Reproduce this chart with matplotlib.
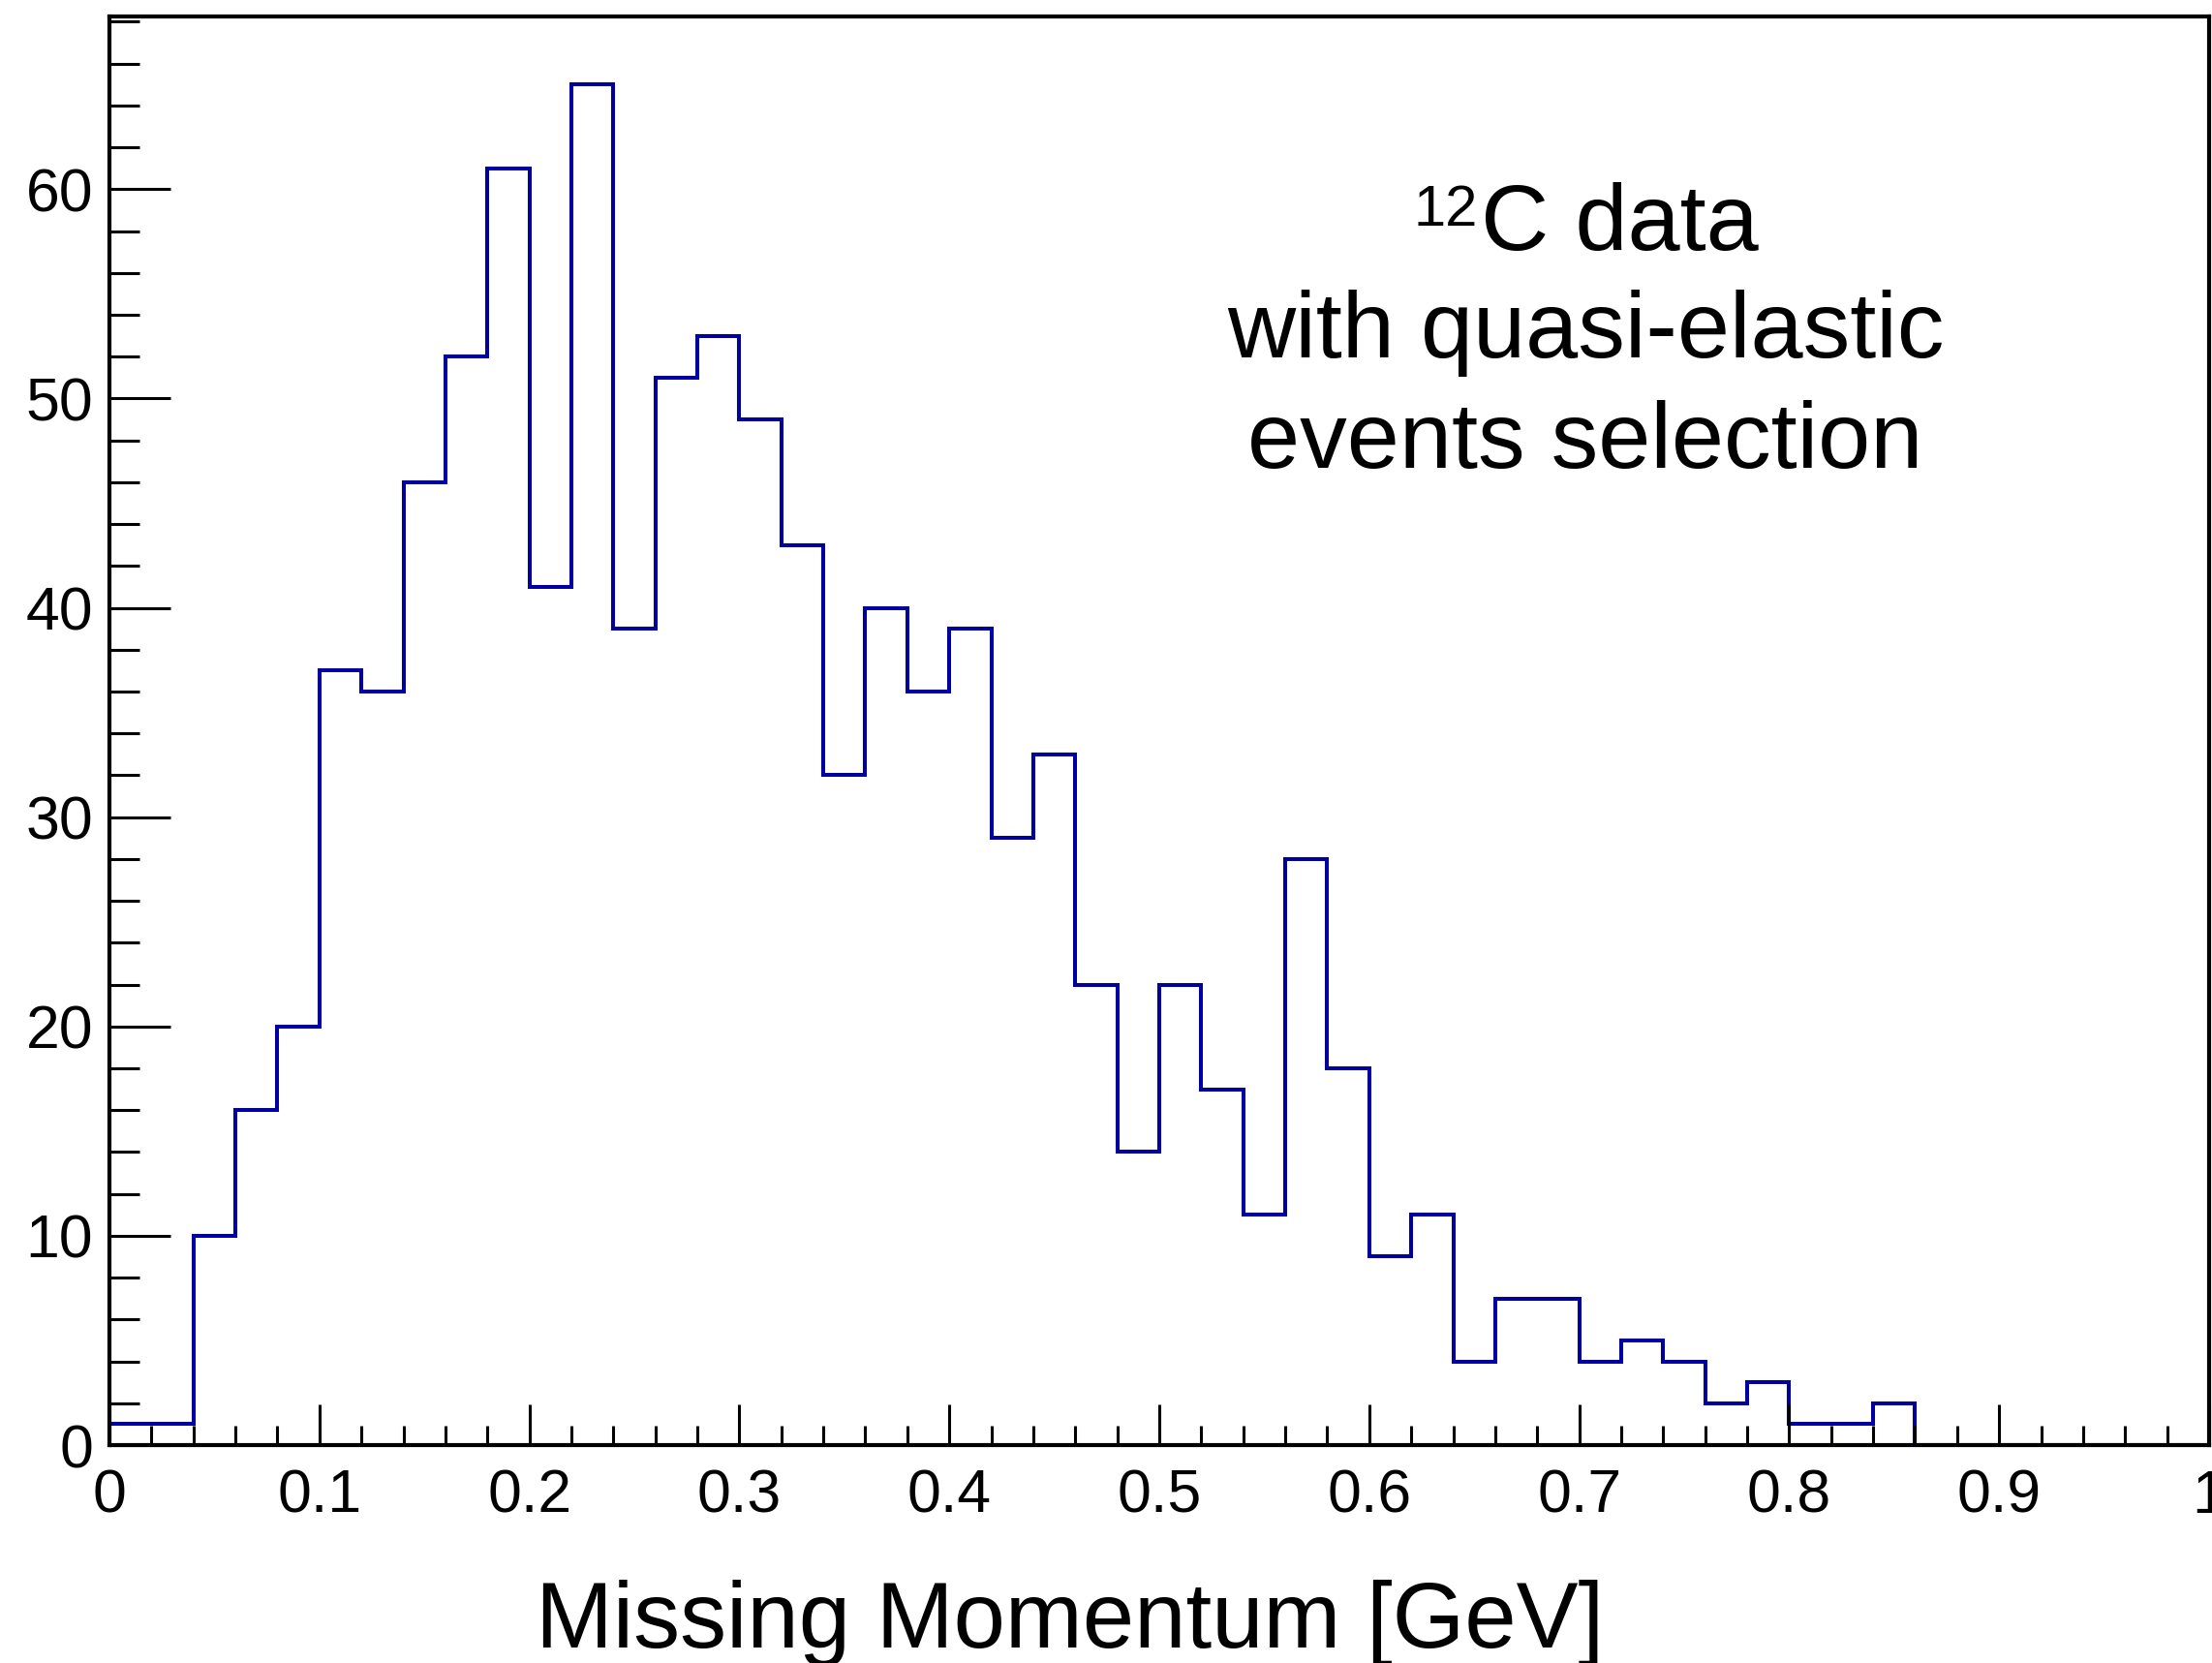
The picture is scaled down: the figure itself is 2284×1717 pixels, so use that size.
import numpy as np
import matplotlib
matplotlib.use("Agg")
import matplotlib.pyplot as plt

plt.rcParams['font.family'] = ['Liberation Sans', 'DejaVu Sans']

# histogram data: 50 bins of 0.02 GeV from 0 to 1
bin_lo = 0.0
bin_hi = 1.0
n_bins = 50
counts = [1, 1, 10, 16, 20, 37, 36, 46, 52, 61,
          41, 65, 39, 51, 53, 49, 43, 32, 40, 36,
          39, 29, 33, 22, 14, 22, 17, 11, 28, 18,
          9, 11, 4, 7, 7, 4, 5, 4, 2, 3,
          1, 1, 2, 0, 0, 0, 0, 0, 0, 0]
x_ticks = [0, 0.1, 0.2, 0.3, 0.4, 0.5, 0.6, 0.7, 0.8, 0.9, 1]
x_tick_labels = ['0', '0.1', '0.2', '0.3', '0.4', '0.5', '0.6', '0.7', '0.8', '0.9', '1']
y_ticks = [0, 10, 20, 30, 40, 50, 60]
note_sup = '12'
note_lines = ['C data', 'with quasi-elastic', 'events selection']
x_title = 'Missing Momentum [GeV]'

W, H = 2284, 1717
fig = plt.figure(figsize=(W / 100, H / 100), dpi=100)
ax = fig.add_axes([113 / W, 1 - 1492 / H, (2281 - 113) / W, (1492 - 17) / H])

edges = np.linspace(bin_lo, bin_hi, n_bins + 1)
ax.stairs(counts, edges, color='#0000a0', lw=2.9)

ax.set_xlim(bin_lo, bin_hi)
ax.set_ylim(0, max(counts) * 1.05)

ax.set_xticks(x_ticks)
ax.set_xticklabels(x_tick_labels)
ax.set_xticks(np.arange(0, 1.0001, 0.02), minor=True)
ax.set_yticks(y_ticks)
ax.set_yticks(np.arange(0, 68.5, 2), minor=True)

for s in ax.spines.values():
    s.set_linewidth(3)
    s.set_color('black')

ax.tick_params(axis='both', which='both', direction='in', width=2.2,
               top=False, right=False, labelsize=45, colors='black')
ax.tick_params(axis='y', which='major', length=45, pad=12)
ax.tick_params(axis='y', which='minor', length=22.5)
ax.tick_params(axis='x', which='major', length=30, pad=17)
ax.tick_params(axis='x', which='minor', length=14.5)

# annotation text in figure pixel positions
fig.text(1529 / W, 1 - 258 / H, note_lines[0], fontsize=70, ha='left', va='baseline')
fig.text(1526 / W, 1 - 233 / H, note_sup, fontsize=43, ha='right', va='baseline')
fig.text(1637 / W, 1 - 369 / H, note_lines[1], fontsize=70, ha='center', va='baseline')
fig.text(1637 / W, 1 - 483 / H, note_lines[2], fontsize=70, ha='center', va='baseline')

fig.text(1105 / W, 1 - 1701 / H, x_title, fontsize=69, ha='center', va='baseline')

fig.savefig('out.png', dpi=100)
